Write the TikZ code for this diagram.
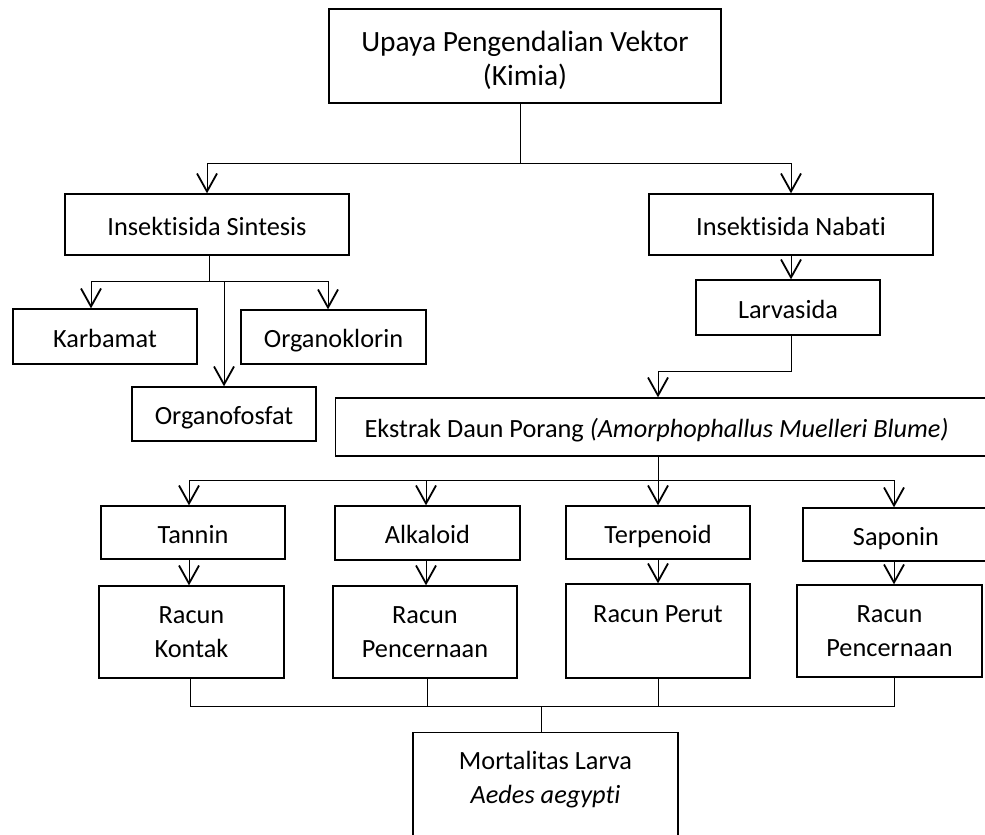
\documentclass[tikz,border=0pt]{standalone}
\usepackage{fontspec}
\setmainfont{Carlito}[Ligatures=NoCommon]
\usetikzlibrary{arrows.meta}
\begin{document}
\begin{tikzpicture}[x=1pt,y=-1pt,
  bx/.style={draw, line width=1.3pt, inner sep=0pt, font=\fontsize{26.3}{34}\selectfont},
  box/.style={bx, align=center},
  one/.style={bx, text height=24pt, text depth=3pt},
  conn/.style={line width=1pt},
  arr/.style={line width=1pt, -{Straight Barb[length=18pt,width=20pt,line width=1.8pt]}}]
\useasboundingbox (0,0) rectangle (985,835);
\clip (0,0) rectangle (985,835);
% nodes
\node[box, minimum width=392pt, minimum height=94pt, font=\fontsize{29.4}{34}\selectfont] (top) at (525,56) {\raisebox{-4pt}[\height][\depth]{\parbox{390pt}{\centering Upaya Pengendalian Vektor\\(Kimia)}}};
\node[one, minimum width=284pt, minimum height=61pt] (sint) at (207,224.5) {Insektisida Sintesis};
\node[one, minimum width=284pt, minimum height=61pt] (nabati) at (791,224.5) {Insektisida Nabati};
\node[one, minimum width=184pt, minimum height=55pt] (karb) at (105,336.5) {Karbamat};
\node[one, minimum width=185pt, minimum height=54pt] (orgk) at (333.5,337) {Organoklorin};
\node[one, minimum width=184pt, minimum height=54pt] (orgf) at (224,414) {Organofosfat};
\node[one, minimum width=184pt, minimum height=55pt] (larv) at (788,307.5) {Larvasida};
\node[one, anchor=west, minimum width=670pt, minimum height=58pt] (ekstrak) at (335,427) {\makebox[640pt][l]{\hspace*{14pt}Ekstrak Daun Porang \textit{(Amorphophallus Muelleri Blume)}}};
\node[one, minimum width=184pt, minimum height=53pt] (tannin) at (193,532.5) {Tannin};
\node[one, minimum width=185pt, minimum height=54pt] (alk) at (427.5,533) {Alkaloid};
\node[one, minimum width=184pt, minimum height=53pt] (terp) at (658,532.5) {Terpenoid};
\node[one, minimum width=186pt, minimum height=53pt] (sap) at (896,534.5) {Saponin};
\node[box, minimum width=185pt, minimum height=92pt] (rk) at (191.5,632) {Racun\\Kontak};
\node[box, minimum width=184pt, minimum height=92pt] (rp1) at (425,632) {Racun\\Pencernaan};
\node[box, minimum width=184pt, minimum height=94pt] (rperut) at (658,631) {Racun Perut\\\phantom{P}};
\node[box, minimum width=185pt, minimum height=92pt] (rp2) at (889.5,631) {Racun\\Pencernaan};
\node[bx, anchor=north] (mort) at (545.5,732) {\parbox[t][130pt][t]{265pt}{\centering\rule{0pt}{37pt}Mortalitas Larva\\\textit{Aedes aegypti}}};
% connectors
\coordinate (j1) at (520,163);
\draw[conn] (top.south -| j1) -- (j1);
\draw[arr] (j1) -| (sint.north);
\draw[arr] (j1) -| (nabati.north);
\coordinate (j2) at (209,281);
\draw[conn] (sint.south -| j2) -- (j2);
\draw[arr] (j2) -| ([xshift=-14pt]karb.north);
\draw[arr] (j2) -| ([xshift=-5.5pt]orgk.north);
\draw[arr] (orgf.north |- j2) -- (orgf.north);
\draw[arr] (nabati.south) -- (nabati.south |- larv.north);
\coordinate (j3) at (658,371);
\draw[arr] (larv.south -| nabati.south) |- (j3) -- (j3 |- ekstrak.north);
\coordinate (j4) at (658,480);
\draw[conn] (j4 |- ekstrak.south) -- (j4);
\draw[arr] (j4) -| ([xshift=-4pt]tannin.north);
\draw[arr] (j4) -| ([xshift=-1.5pt]alk.north);
\draw[arr] (j4) -- (terp.north);
\draw[arr] (j4) -| ([xshift=-2pt]sap.north);
\draw[arr] ([xshift=-4pt]tannin.south) -- ([xshift=-4pt]tannin.south |- rk.north);
\draw[arr] ([xshift=-1.5pt]alk.south) -- ([xshift=-1.5pt]alk.south |- rp1.north);
\draw[arr] (terp.south) -- (terp.south |- rperut.north);
\draw[arr] ([xshift=-2pt]sap.south) -- ([xshift=-2pt]sap.south |- rp2.north);
\coordinate (j5) at (541.6,706);
\draw[conn] ([xshift=-1.5pt]rk.south) |- ([xshift=4.5pt]rp2.south |- j5) -- ([xshift=4.5pt]rp2.south);
\draw[conn] ([xshift=2pt]rp1.south) -- ([xshift=2pt]rp1.south |- j5);
\draw[conn] (rperut.south) -- (rperut.south |- j5);
\draw[conn] (j5) -- (j5 |- mort.north);
\end{tikzpicture}
\end{document}
